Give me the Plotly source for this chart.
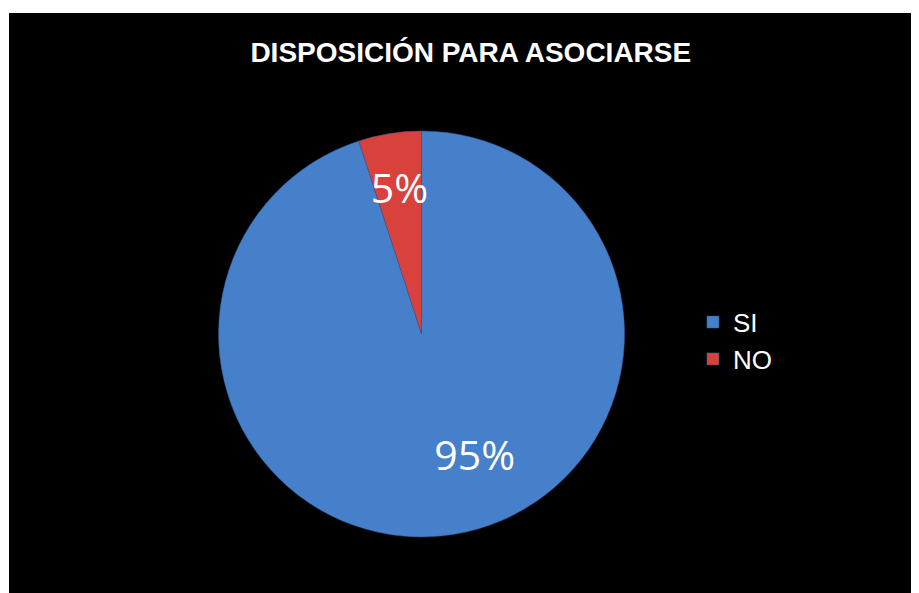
import plotly.graph_objects as go

labels = ["SI", "NO"]
values = [95, 5]
colors = ["#4680CA", "#D8413C"]
title = "DISPOSICIÓN PARA ASOCIARSE"

# per-slice label templates (padding nudges each label inside its slice)
templates = ["<span style='font-size:28px'>&nbsp;</span><br>" + "&nbsp;" * 7 + "%{percent:.0%}",
             "&nbsp;<br>&nbsp;%{percent:.0%}"]

fig = go.Figure()
fig.add_trace(go.Pie(
    labels=labels, values=values, sort=False, direction="clockwise", rotation=0,
    marker=dict(colors=colors, line=dict(color="#2f5d99", width=0.5)),
    textinfo="percent", texttemplate=templates,
    textposition="inside", insidetextorientation="horizontal",
    textfont=dict(family="Open Sans, Noto Sans, sans-serif", size=41, color="white"),
    domain=dict(x=[0.2297, 0.677], y=[0.0966, 0.7966]),
    showlegend=True,
))
fig.update_layout(
    width=911, height=585,
    margin=dict(l=1, t=5, r=0, b=0),
    paper_bgcolor="white",
    uniformtext=dict(minsize=41, mode="show"),
    shapes=[dict(type="rect", xref="paper", yref="paper", x0=0, x1=1, y0=0, y1=1,
                 fillcolor="black", line=dict(width=0), layer="below")],
    title=dict(text="<b>" + title + "</b>", x=0.508, xanchor="center", y=0.9248, yanchor="middle",
               font=dict(family="Liberation Sans, Arial, sans-serif", size=28, color="white")),
    legend=dict(x=0.7516, y=0.435, xanchor="left", yanchor="middle",
                font=dict(family="Liberation Sans, Arial, sans-serif", size=26, color="white"),
                bgcolor="rgba(0,0,0,0)", itemwidth=30),
)
fig.write_html("out.html")
